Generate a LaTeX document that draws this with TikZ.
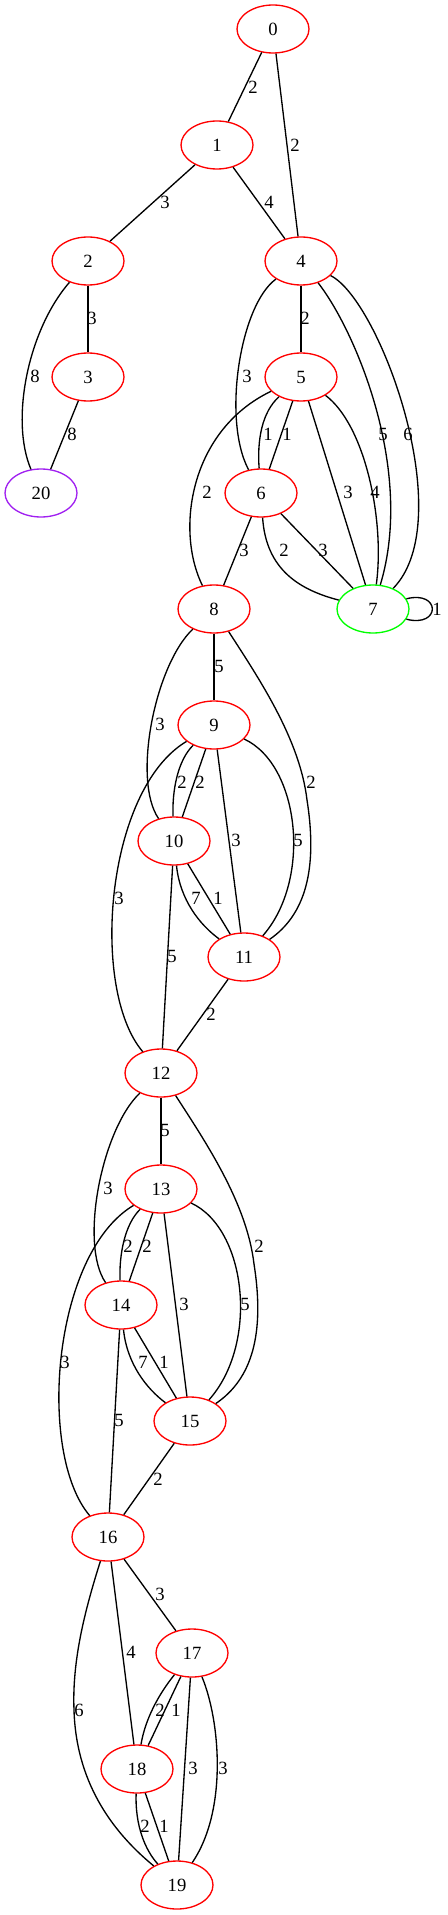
\documentclass[tikz,border=0pt]{standalone}
\usepackage{fontspec}
\setmainfont{Liberation Serif}
\usetikzlibrary{shapes.geometric}
\definecolor{gvred}{HTML}{FF0000}
\definecolor{gvgreen}{HTML}{00FF00}
\definecolor{gvpurple}{HTML}{A020F0}
\begin{document}
\begin{tikzpicture}[x=0.75pt,y=-0.75pt,
  vert/.style={ellipse,draw=gvred,line width=1pt,minimum width=54pt,minimum height=36pt,inner sep=0pt,font=\fontsize{14pt}{16pt}\selectfont},
  startv/.style={vert,draw=gvgreen},
  endv/.style={vert,draw=gvpurple},
  wt/.style={inner sep=0pt,font=\fontsize{14pt}{16pt}\selectfont},
  edge/.style={draw=black,line width=1pt}]
\useasboundingbox (0,0) rectangle (448,1915);
% nodes
\node[vert] (n0) at (273,29) {0};
\node[vert] (n1) at (217,145) {1};
\node[vert] (n2) at (88,261) {2};
\node[vert] (n4) at (301,261) {4};
\node[vert] (n3) at (88,377) {3};
\node[vert] (n5) at (301,377) {5};
\node[endv] (n20) at (41,493) {20};
\node[vert] (n6) at (261,493) {6};
\node[vert] (n8) at (214,609) {8};
\node[startv] (n7) at (373,609) {7};
\node[vert] (n9) at (214,725) {9};
\node[vert] (n10) at (174,841) {10};
\node[vert] (n11) at (244,957) {11};
\node[vert] (n12) at (161,1073) {12};
\node[vert] (n13) at (161,1189) {13};
\node[vert] (n14) at (121,1305) {14};
\node[vert] (n15) at (190,1421) {15};
\node[vert] (n16) at (108,1537) {16};
\node[vert] (n17) at (192,1653) {17};
\node[vert] (n18) at (137,1769) {18};
\node[vert] (n19) at (177,1885) {19};
% edges
\path[edge] (n0) -- (n1);
\path[edge] (n0) -- (n4);
\path[edge] (n1) -- (n2);
\path[edge] (n1) -- (n4);
\path[edge] (n2) -- (n3);
\path[edge] (n2) .. controls (28,330) and (10,420) .. (n20);
\path[edge] (n3) -- (n20);
\path[edge] (n4) -- (n5);
\path[edge] (n4) .. controls (240,305) and (222,420) .. (n6);
\path[edge] (n4) .. controls (355,330) and (415,470) .. (n7);
\path[edge] (n4) .. controls (380,300) and (460,520) .. (n7);
\path[edge] (n5) .. controls (262,412) and (257,440) .. (n6);
\path[edge] (n5) -- (n6);
\path[edge] (n5) .. controls (190,430) and (175,530) .. (n8);
\path[edge] (n5) -- (n7);
\path[edge] (n5) .. controls (365,425) and (385,520) .. (n7);
\path[edge] (n6) -- (n8);
\path[edge] (n6) .. controls (266,570) and (300,590) .. (n7);
\path[edge] (n6) -- (n7);
\path[edge] (n7.17) .. controls (441,590) and (441,628) .. (n7.-17);
\path[edge] (n8) -- (n9);
\path[edge] (n8) .. controls (155,665) and (132,780) .. (n10);
\path[edge] (n8) .. controls (260,680) and (300,740) .. (307,800) .. controls (318,870) and (305,915) .. (n11);
\path[edge] (n9) .. controls (178,760) and (172,790) .. (n10);
\path[edge] (n9) -- (n10);
\path[edge] (n9) -- (n11);
\path[edge] (n9) .. controls (300,765) and (312,880) .. (n11);
\path[edge] (n9) .. controls (105,790) and (90,990) .. (n12);
\path[edge] (n10) .. controls (180,900) and (200,925) .. (n11);
\path[edge] (n10) -- (n11);
\path[edge] (n10) -- (n12);
\path[edge] (n11) -- (n12);
\path[edge] (n12) -- (n13);
\path[edge] (n12) .. controls (102,1129) and (79,1244) .. (n14);
\path[edge] (n12) .. controls (207,1144) and (247,1204) .. (254,1264) .. controls (265,1334) and (252,1379) .. (n15);
\path[edge] (n13) .. controls (125,1224) and (119,1254) .. (n14);
\path[edge] (n13) -- (n14);
\path[edge] (n13) -- (n15);
\path[edge] (n13) .. controls (247,1229) and (259,1344) .. (n15);
\path[edge] (n13) .. controls (52,1254) and (37,1454) .. (n16);
\path[edge] (n14) .. controls (127,1364) and (147,1389) .. (n15);
\path[edge] (n14) -- (n15);
\path[edge] (n14) -- (n16);
\path[edge] (n15) -- (n16);
\path[edge] (n16) -- (n17);
\path[edge] (n16) -- (n18);
\path[edge] (n16) .. controls (85,1610) and (72,1660) .. (74,1710) .. controls (76,1780) and (110,1830) .. (n19);
\path[edge] (n17) .. controls (158,1695) and (145,1720) .. (n18);
\path[edge] (n17) -- (n18);
\path[edge] (n17) -- (n19);
\path[edge] (n17) .. controls (220,1720) and (228,1810) .. (n19);
\path[edge] (n18) .. controls (135,1825) and (145,1850) .. (n19);
\path[edge] (n18) -- (n19);
% weights
\node[wt] (w01) at (253,87) {2};
\node[wt] (w04) at (295,145) {2};
\node[wt] (w12) at (165,202) {3};
\node[wt] (w14) at (269,202) {4};
\node[wt] (w23) at (92,318) {3};
\node[wt] (w220) at (35,376) {8};
\node[wt] (w320) at (72,434) {8};
\node[wt] (w45) at (305,318) {2};
\node[wt] (w46) at (247,376) {3};
\node[wt] (w47a) at (383,434) {5};
\node[wt] (w47b) at (408,434) {6};
\node[wt] (w56a) at (268,434) {1};
\node[wt] (w56b) at (287,434) {1};
\node[wt] (w58) at (207,492) {2};
\node[wt] (w57a) at (348,492) {3};
\node[wt] (w57b) at (375,492) {4};
\node[wt] (w68) at (244,550) {3};
\node[wt] (w67a) at (284,550) {2};
\node[wt] (w67b) at (323,550) {3};
\node[wt] (w77) at (437,609) {1};
\node[wt] (w89) at (219,666) {5};
\node[wt] (w810) at (160,724) {3};
\node[wt] (w811) at (311,782) {2};
\node[wt] (w910a) at (182,782) {2};
\node[wt] (w910b) at (200,782) {2};
\node[wt] (w911a) at (236,840) {3};
\node[wt] (w911b) at (298,840) {5};
\node[wt] (w912) at (119,898) {3};
\node[wt] (w1011a) at (196,898) {7};
\node[wt] (w1011b) at (218,898) {1};
\node[wt] (w1012) at (172,956) {5};
\node[wt] (w1112) at (211,1014) {2};
\node[wt] (w1213) at (165,1130) {5};
\node[wt] (w1214) at (108,1188) {3};
\node[wt] (w1215) at (259,1246) {2};
\node[wt] (w1314a) at (128,1246) {2};
\node[wt] (w1314b) at (147,1246) {2};
\node[wt] (w1315a) at (184,1304) {3};
\node[wt] (w1315b) at (245,1304) {5};
\node[wt] (w1316) at (65,1362) {3};
\node[wt] (w1415a) at (143,1362) {7};
\node[wt] (w1415b) at (164,1362) {1};
\node[wt] (w1416) at (119,1420) {5};
\node[wt] (w1516) at (158,1479) {2};
\node[wt] (w1617) at (160,1594) {3};
\node[wt] (w1618) at (131,1652) {4};
\node[wt] (w1619) at (79,1710) {6};
\node[wt] (w1718a) at (160,1710) {2};
\node[wt] (w1718b) at (176,1710) {1};
\node[wt] (w1719a) at (193,1768) {3};
\node[wt] (w1719b) at (223,1768) {3};
\node[wt] (w1819a) at (145,1826) {2};
\node[wt] (w1819b) at (164,1826) {1};
\end{tikzpicture}
\end{document}
